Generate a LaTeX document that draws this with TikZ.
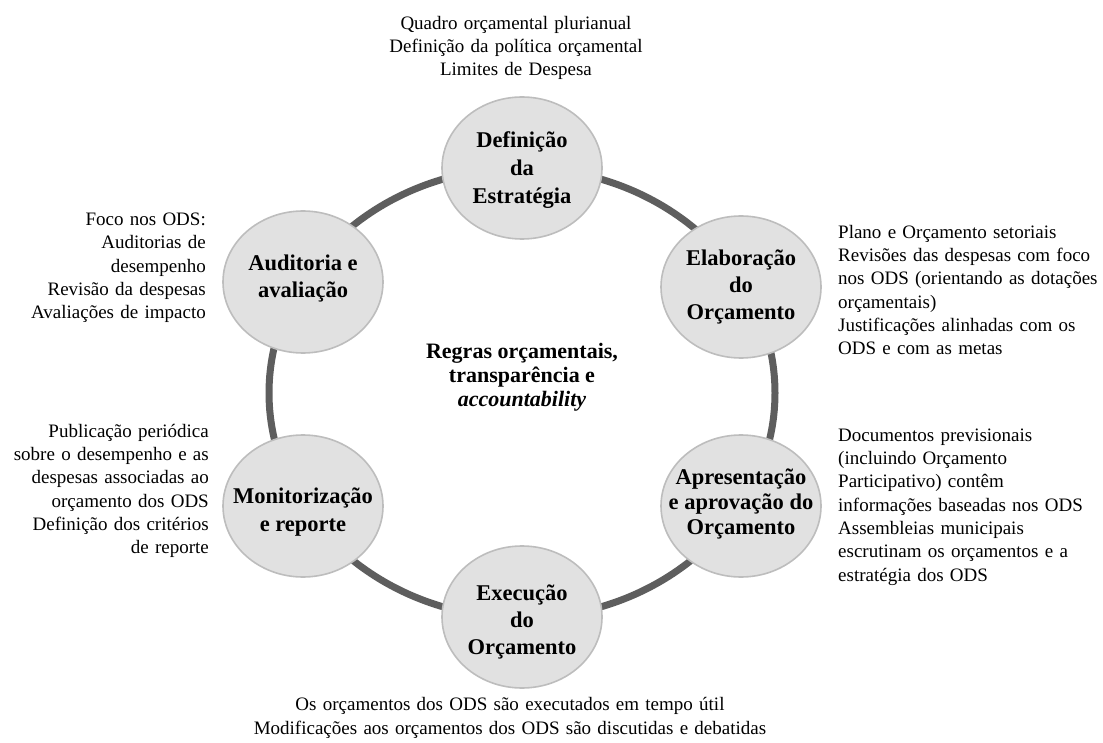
\documentclass[tikz,border=0pt]{standalone}
\usepackage{fontspec}
\setmainfont{Liberation Serif}
\usetikzlibrary{shapes.geometric}
\definecolor{ringgray}{HTML}{5E5E5E}
\definecolor{nodefill}{HTML}{E1E1E1}
\definecolor{nodeedge}{HTML}{BDBDBD}
\newcommand\mynotefont{\fontsize{19}{23.3}\selectfont\spaceskip 0.33em plus 0.1em\relax}
\tikzset{
  stagebox/.style={ellipse, draw=nodeedge, line width=1.6pt, fill=nodefill,
    minimum width=160pt, minimum height=142pt, inner sep=0pt},
  stagetext/.style={align=center, inner sep=0pt,
    font=\fontsize{22.5}{27}\selectfont\bfseries},
  ringline/.style={draw=ringgray, line width=7pt},
  note/.style={inner sep=0pt, font=\mynotefont},
}
\begin{document}
\begin{tikzpicture}[x=1pt, y=-1pt]
\useasboundingbox (0,0) rectangle (1103,743);
% ring
\draw[ringline] (522,393) ellipse [x radius=253pt, y radius=225pt];
% stages
\node[stagebox] (def) at (522,168) {};
\node[stagebox] (elab) at (741,287) {};
\node[stagebox] (apr) at (741,506) {};
\node[stagebox] (exe) at (522,617) {};
\node[stagebox] (mon) at (303,506) {};
\node[stagebox] (aud) at (303,282) {};
\node[stagetext, font=\fontsize{22.5}{28}\selectfont\bfseries] (def-t) at ([yshift=-2pt]def.center) {Definição\\da\\Estratégia};
\node[stagetext] (elab-t) at (elab) {Elaboração\\do\\Orçamento};
\node[stagetext, font=\fontsize{22.5}{25}\selectfont\bfseries] (apr-t) at ([yshift=2pt]apr.center) {Apresentação\\e aprovação do\\Orçamento};
\node[stagetext] (exe-t) at ([yshift=-5pt]exe.center) {Execução\\do\\Orçamento};
\node[stagetext, font=\fontsize{22.5}{28}\selectfont\bfseries] (mon-t) at ([yshift=-6pt]mon.center) {Monitorização\\e reporte};
\node[stagetext] (aud-t) at ([yshift=3pt]aud.center) {Auditoria e\\avaliação};
% centre
\node[align=center, inner sep=0pt, font=\fontsize{22}{24}\selectfont\bfseries] (centre) at (522,377)
  {Regras orçamentais,\\transparência e\\\textit{accountability}};
% notes
\node[note, align=center] (n-top) at (516,48)
  {Quadro orçamental plurianual\\Definição da política orçamental\\Limites de Despesa};
\node[note, align=right, anchor=east] (n-aud) at (206,268)
  {Foco nos ODS:\\Auditorias de\\desempenho\\Revisão da despesas\\Avaliações de impacto};
\node[note, align=left, anchor=west] (n-elab) at (838,290)
  {Plano e Orçamento setoriais\\Revisões das despesas com foco\\nos ODS (orientando as dotações\\orçamentais)\\Justificações alinhadas com os\\ODS e com as metas};
\node[note, align=left, anchor=west] (n-apr) at (838,507)
  {Documentos previsionais\\(incluindo Orçamento\\Participativo) contêm\\informações baseadas nos ODS\\Assembleias municipais\\escrutinam os orçamentos e a\\estratégia dos ODS};
\node[note, align=right, anchor=east] (n-mon) at (209,491)
  {Publicação periódica\\sobre o desempenho e as\\despesas associadas ao\\orçamento dos ODS\\Definição dos critérios\\de reporte};
\node[note, align=center] (n-exe) at (510,718)
  {Os orçamentos dos ODS são executados em tempo útil\\Modificações aos orçamentos dos ODS são discutidas e debatidas};
\end{tikzpicture}
\end{document}
